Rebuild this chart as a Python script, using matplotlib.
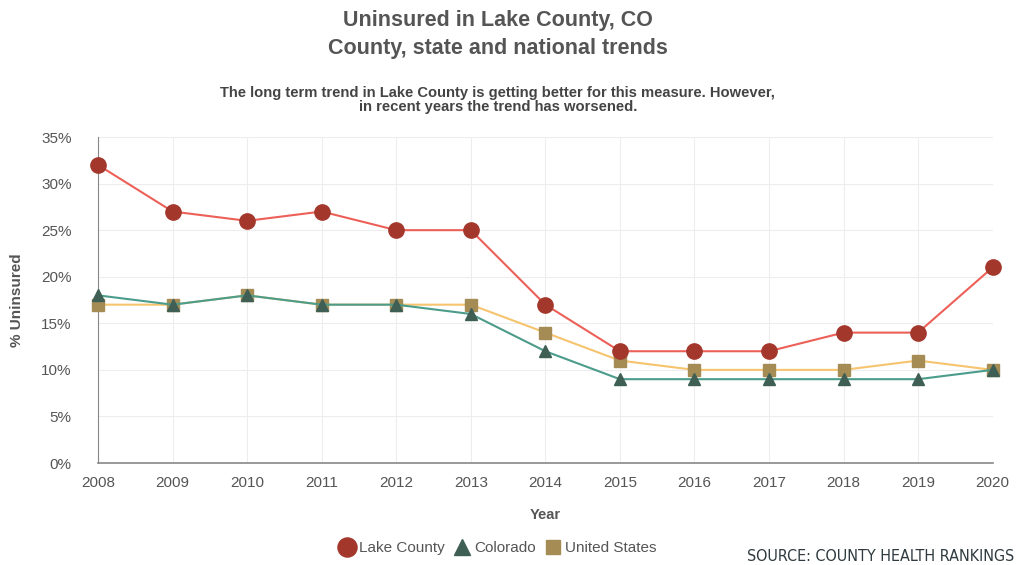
import matplotlib.pyplot as plt
from matplotlib.ticker import FuncFormatter

years = list(range(2008, 2021))
lake_county = [32, 27, 26, 27, 25, 25, 17, 12, 12, 12, 14, 14, 21]
colorado = [18, 17, 18, 17, 17, 16, 12, 9, 9, 9, 9, 9, 10]
united_states = [17, 17, 18, 17, 17, 17, 14, 11, 10, 10, 10, 11, 10]

plt.rcParams['font.family'] = ['Liberation Sans', 'DejaVu Sans']

fig = plt.figure(figsize=(10.16, 5.65), dpi=100)
ax = fig.add_axes([0.0965, 0.1805, 0.8805, 0.577])

# US first so Colorado and Lake County sit on top
ax.plot(years, united_states, color='#f6c46e', lw=1.5, marker='s', ms=8,
        mfc='#a58c55', mec='#a58c55', clip_on=False, zorder=3, label='United States')
ax.plot(years, colorado, color='#4b9c8b', lw=1.5, marker='^', ms=9,
        mfc='#3f5f55', mec='#3f5f55', clip_on=False, zorder=4, label='Colorado')
ax.plot(years, lake_county, color='#ec6058', lw=1.5, marker='o', ms=11,
        mfc='#a3372c', mec='#a3372c', clip_on=False, zorder=5, label='Lake County')

ax.set_xlim(2008, 2020)
ax.set_ylim(0, 35)
ax.set_xticks(years)
ax.set_yticks(range(0, 36, 5))
ax.yaxis.set_major_formatter(FuncFormatter(lambda v, p: f'{int(v)}%'))
ax.grid(True, color='#ededed', lw=0.8)
ax.set_axisbelow(True)
for s in ['top', 'right']:
    ax.spines[s].set_visible(False)
ax.spines['left'].set_color('#888888')
ax.spines['bottom'].set_color('#888888')
ax.spines['bottom'].set_linewidth(1.2)
ax.tick_params(length=0, labelsize=11, colors='#555555')
ax.tick_params(axis='y', pad=19)
ax.tick_params(axis='x', pad=9)

ax.set_xlabel('Year', fontsize=10.5, fontweight='bold', color='#555555', labelpad=13)
ax.set_ylabel('% Uninsured', fontsize=11, fontweight='bold', color='#555555', labelpad=12)

fig.text(0.49, 0.963, 'Uninsured in Lake County, CO', ha='center', va='center',
         fontsize=15.5, fontweight='bold', color='#555555')
fig.text(0.49, 0.915, 'County, state and national trends', ha='center', va='center',
         fontsize=15.5, fontweight='bold', color='#555555')
fig.text(0.49, 0.823, 'The long term trend in Lake County is getting better for this measure. However,\nin recent years the trend has worsened.',
         ha='center', va='center', fontsize=10.6, fontweight='bold', color='#444444', linespacing=0.95)

handles, labels = ax.get_legend_handles_labels()
leg = fig.legend(handles[::-1], labels[::-1], loc='center', bbox_to_anchor=(0.49, 0.03),
                 ncol=3, frameon=False, fontsize=11, handlelength=1.0, handletextpad=0.3,
                 columnspacing=0.6, markerscale=1.25)
for line in leg.get_lines():
    line.set_linestyle('')
for t in leg.get_texts():
    t.set_color('#555555')

fig.text(0.998, 0.002, 'SOURCE: COUNTY HEALTH RANKINGS', ha='right', va='bottom',
         fontsize=11.5, color='#2f3b40', family='DejaVu Sans', fontstretch='condensed')

fig.savefig('out.png', dpi=100)
